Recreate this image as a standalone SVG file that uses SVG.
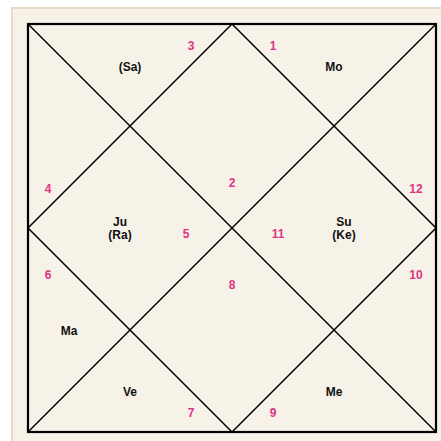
<svg xmlns="http://www.w3.org/2000/svg" width="441" height="441" viewBox="0 0 441 441">
<style>
.num{font-family:"Liberation Sans",Arial,sans-serif;font-weight:bold;font-size:12px;fill:#e03385;text-anchor:middle}
.pl{font-family:"Liberation Sans",Arial,sans-serif;font-weight:bold;font-size:12px;fill:#111;text-anchor:middle}
.ln{stroke:#000;stroke-width:1.5;fill:none}
</style>
<rect x="0" y="0" width="441" height="441" fill="#ffffff"/>
<rect x="12" y="8" width="440" height="440" fill="#f6f2e8" stroke="#e6dbc6" stroke-width="2"/>
<g id="connectors">
<rect x="28" y="24" width="408" height="408" fill="none" stroke="#000" stroke-width="2.2"/>
<line class="ln" x1="28" y1="24" x2="436" y2="432"/>
<line class="ln" x1="436" y1="24" x2="28" y2="432"/>
<polygon class="ln" points="232,24 436,228 232,432 28,228"/>
</g>
<g id="house1"><text class="num" x="273" y="49.5">1</text><text class="pl" x="334" y="71">Mo</text></g>
<g id="house2"><text class="num" x="232" y="186.5">2</text></g>
<g id="house3"><text class="num" x="191" y="49.5">3</text><text class="pl" x="130" y="71">(Sa)</text></g>
<g id="house4"><text class="num" x="48" y="192.5">4</text></g>
<g id="house5"><text class="num" x="186" y="237.5">5</text><text class="pl" x="120" y="226">Ju</text><text class="pl" x="120" y="239">(Ra)</text></g>
<g id="house6"><text class="num" x="48" y="278.5">6</text><text class="pl" x="69" y="335">Ma</text></g>
<g id="house7"><text class="num" x="191" y="416.5">7</text><text class="pl" x="130" y="396">Ve</text></g>
<g id="house8"><text class="num" x="232" y="288.5">8</text></g>
<g id="house9"><text class="num" x="273" y="416.5">9</text><text class="pl" x="334" y="396">Me</text></g>
<g id="house10"><text class="num" x="416" y="278.5">10</text></g>
<g id="house11"><text class="num" x="278" y="237.5">11</text><text class="pl" x="344" y="226">Su</text><text class="pl" x="344" y="239">(Ke)</text></g>
<g id="house12"><text class="num" x="416" y="192.5">12</text></g>
</svg>
